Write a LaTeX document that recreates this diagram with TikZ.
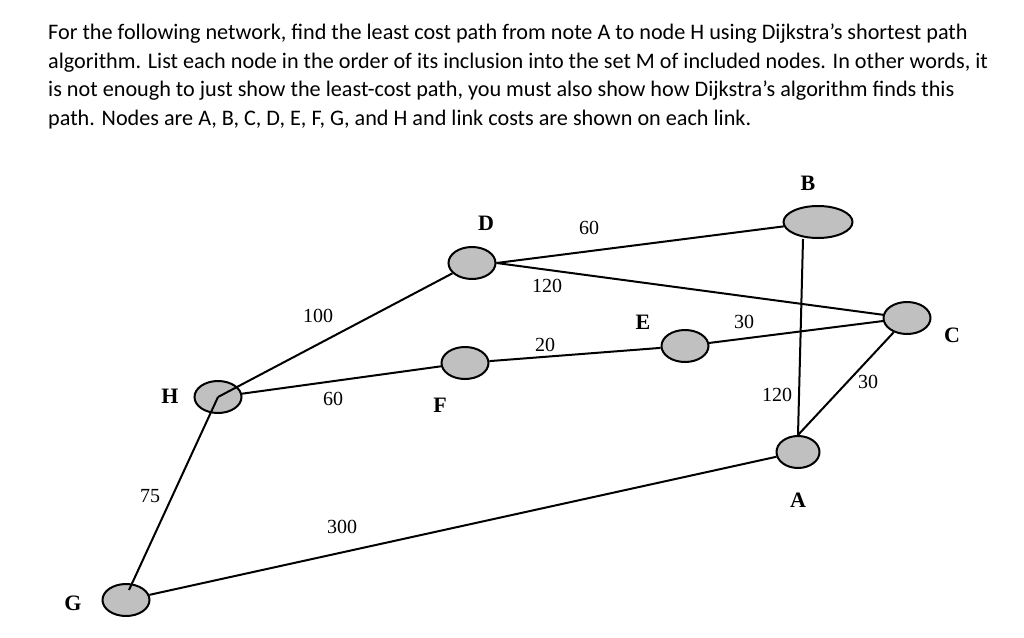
\documentclass[tikz,border=0pt]{standalone}
\usepackage{fontspec}
\setmainfont{Liberation Serif}
\newfontfamily\calib{Carlito}
\usetikzlibrary{shapes.geometric,calc}
\definecolor{nodegray}{RGB}{192,192,192}
\tikzset{
  vert/.style={ellipse, draw=black, fill=nodegray, line width=2pt, inner sep=0pt, minimum width=47pt, minimum height=32pt},
  wide/.style={minimum width=69pt},
  link/.style={line width=2pt, draw=black},
  vlabel/.style={font=\fontsize{22}{24}\selectfont\bfseries, inner sep=0pt},
  cost/.style={font=\fontsize{20}{22}\selectfont, inner sep=0pt},
  para/.style={font=\calib\fontsize{22.2}{24}\selectfont, anchor=base west, inner sep=0pt}
}
\begin{document}
\begin{tikzpicture}[x=1pt,y=-1pt]
\useasboundingbox (0,0) rectangle (1024,637);
\fill[white] (0,0) rectangle (1024,637);
% question text
\node[para] (t1) at (48,39) {For the following network, find the least cost path from note A to node H using Dijkstra’s shortest path};
\node[para] (t2) at (48,68) {algorithm. List each node in the order of its inclusion into the set M of included nodes. In other words, it};
\node[para] (t3) at (48,96) {is not enough to just show the least-cost path, you must also show how Dijkstra’s algorithm finds this};
\node[para] (t4) at (48,125) {path. Nodes are A, B, C, D, E, F, G, and H and link costs are shown on each link.};
% vertices
\node[vert] (D) at (472,263) {};
\node[vert,wide] (B) at (818,222) {};
\node[vert] (F) at (465,363) {};
\node[vert] (H) at (218,397) {};
\node[vert] (E) at (685,346) {};
\node[vert] (C) at (907,318) {};
\node[vert,minimum width=43pt] (A) at (798,452) {};
\node[vert] (G) at (126,600) {};
% links
\draw[link] (H.center) -- (D);
\draw[link] (H) -- (F);
\draw[link] (H.center) -- ([shift={(3,-10)}]G.center);
\draw[link] (G) -- (A);
\draw[link] (F) -- (E);
\draw[link] (D.east) -- (B);
\draw[link] (D.east) -- (C);
\draw[link] (E) -- (C);
\draw[link] ([xshift=-15pt]B.south) -- (A.north);
\draw[link] (A.north) -- (C);
% vertex labels
\node[vlabel] (lD) at (486,223) {D};
\node[vlabel] (lB) at (808,183) {B};
\node[vlabel] (lH) at (170,396) {H};
\node[vlabel] (lF) at (440,405) {F};
\node[vlabel] (lE) at (643,322) {E};
\node[vlabel] (lC) at (952,335) {C};
\node[vlabel] (lA) at (798,500) {A};
\node[vlabel] (lG) at (73,603) {G};
% costs
\node[cost] (c1) at (318,316) {100};
\node[cost] (c2) at (333,399) {60};
\node[cost] (c3) at (150,496) {75};
\node[cost] (c4) at (342,527) {300};
\node[cost] (c5) at (589,228) {60};
\node[cost] (c6) at (547,286) {120};
\node[cost] (c7) at (545,345) {20};
\node[cost] (c8) at (744,322) {30};
\node[cost] (c9) at (777,395) {120};
\node[cost] (c10) at (868,382) {30};
\end{tikzpicture}
\end{document}
